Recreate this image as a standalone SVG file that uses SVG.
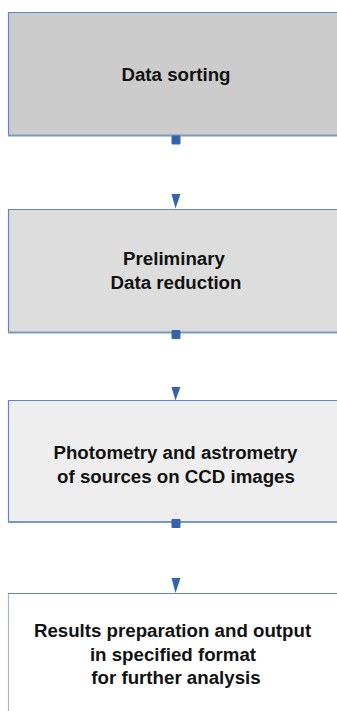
<svg xmlns="http://www.w3.org/2000/svg" width="337" height="711" viewBox="0 0 337 711">
<style>
.edge{stroke:#5f86c2;stroke-width:1.2;fill:none}
.bot{stroke:#7d98bd;stroke-width:2.2;fill:none}
.lbl{font-family:"Liberation Sans",Arial,sans-serif;font-weight:bold;font-size:18.7px;fill:#111;text-anchor:middle}
.mk{fill:#3465aa}
</style>
<rect width="337" height="711" fill="#ffffff"/>
<g id="node1">
<rect x="8" y="12" width="335" height="123.5" fill="#cccccc"/>
<path class="edge" d="M8.5 135 V12.5 H337"/>
<path class="bot" d="M8 135.5 H337"/>
<text class="lbl" x="176" y="80.5">Data sorting</text>
</g>
<g id="node2">
<rect x="8" y="209" width="335" height="123" fill="#dddddd"/>
<path class="edge" d="M8.5 332 V209.5 H337"/>
<path class="bot" d="M8 332.5 H337"/>
<text class="lbl" x="174" y="265">Preliminary</text>
<text class="lbl" x="176" y="288.5">Data reduction</text>
</g>
<g id="node3">
<rect x="8" y="400" width="335" height="122" fill="#eeeeee"/>
<path class="edge" d="M8.5 522 V400.5 H337"/>
<path class="bot" d="M8 522 H337"/>
<text class="lbl" x="175.5" y="458.5">Photometry and astrometry</text>
<text class="lbl" x="176" y="482.5">of sources on CCD images</text>
</g>
<g id="node4">
<rect x="8" y="593" width="335" height="125" fill="#ffffff"/>
<path d="M8.5 711 V593.5" stroke="#9fb6dc" stroke-width="1.2" fill="none"/>
<path class="edge" d="M8 593.5 H337"/>
<text class="lbl" x="172.5" y="637">Results preparation and output</text>
<text class="lbl" x="173" y="660.5">in specified format</text>
<text class="lbl" x="176" y="684">for further analysis</text>
</g>
<g id="connectors">
<rect class="mk" x="171.5" y="135.5" width="9" height="9" rx="1"/>
<polygon class="mk" points="171.5,194 180.5,194 175.5,208.5"/>
<rect class="mk" x="171.5" y="330" width="9" height="9" rx="1"/>
<polygon class="mk" points="171.5,387 180.5,387 175.5,400.5"/>
<rect class="mk" x="171.5" y="519" width="9" height="9" rx="1"/>
<polygon class="mk" points="171.5,578 180.5,578 175.5,593"/>
</g>
</svg>
